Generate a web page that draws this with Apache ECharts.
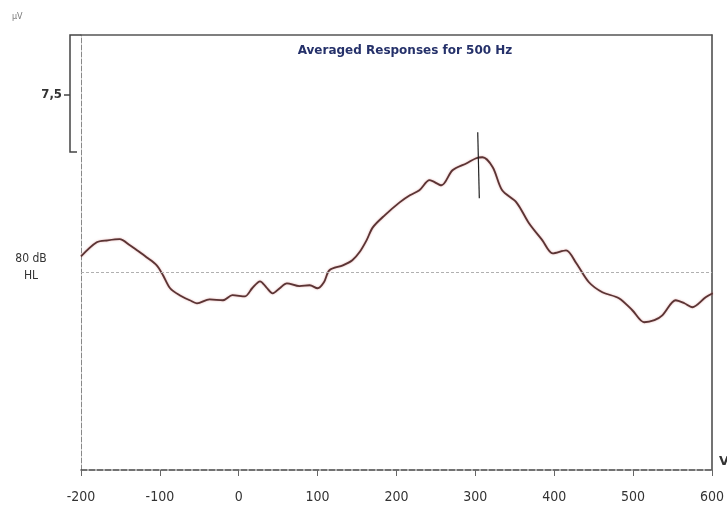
<!DOCTYPE html>
<html>
<head>
<meta charset="utf-8">
<script src="https://cdn.jsdelivr.net/npm/echarts@6/dist/echarts.min.js"></script>
<style>html,body{margin:0;padding:0;background:#fff;}#c{width:727px;height:520px;}</style>
</head>
<body>
<div id="c"></div>
<script>
// Latency (ms) and amplitude (μV, relative to baseline)
var latency = [-200,-180,-166,-151,-138,-129,-117,-104,-96,-87,-75,-62,-53,-37,-20,-8,8,17,27,35,43,52,61,77,90,100,108,115,132,144,153,162,170,185,204,217,229,242,257,271,289,301,309,322,334,352,368,385,398,415,428,444,461,482,499,514,527,537,554,565,575,592,601];
var amplitude = [1.01,1.90,2.02,2.09,1.71,1.39,0.95,0.44,-0.19,-1.01,-1.45,-1.77,-1.96,-1.71,-1.77,-1.45,-1.52,-1.01,-0.57,-0.95,-1.33,-1.01,-0.70,-0.88,-0.82,-1.01,-0.63,0.13,0.44,0.76,1.26,2.02,2.84,3.60,4.42,4.87,5.18,5.82,5.50,6.45,6.89,7.21,7.27,6.64,5.18,4.42,3.10,2.02,1.20,1.39,0.57,-0.63,-1.26,-1.64,-2.40,-3.16,-3.03,-2.72,-1.77,-1.96,-2.21,-1.58,-1.33];
var xTicks = [-200,-100,0,100,200,300,400,500,600];
var peakMarker = [[303, 8.85], [305, 4.68]];
var titleText = 'Averaged Responses for 500 Hz';
var levelLabel = '80 dB\nHL';
var scaleLabel = '7,5';
var unitLabel = 'μV';

var chart = echarts.init(document.getElementById('c'));
var pts = latency.map(function(x, i){ return [x, amplitude[i]]; });
chart.setOption({
  animation: false,
  backgroundColor: '#ffffff',
  title: {
    text: titleText, left: 400, top: 40, textAlign: 'center',
    textStyle: {fontFamily: 'DejaVu Sans', fontSize: 12, fontWeight: 'bold', color: '#25316a'}
  },
  grid: {left: 81, right: 13, top: 35, bottom: 50},
  xAxis: [{
    type: 'value', min: -200, max: 600, interval: 100,
    axisLine: {show: true, onZero: false, lineStyle: {color: '#444', width: 1.5, type: [6, 2]}},
    axisTick: {show: true, length: 6, lineStyle: {color: '#666'}},
    axisLabel: {color: '#333', fontFamily: 'DejaVu Sans Condensed', fontSize: 14, margin: 20,
      formatter: function(v){ return xTicks.indexOf(v) >= 0 ? String(v) : ''; }},
    splitLine: {show: false}
  }, {
    type: 'value', min: -200, max: 600, position: 'top',
    axisLine: {show: true, onZero: false, lineStyle: {color: '#555', width: 1.5}},
    axisTick: {show: false}, axisLabel: {show: false}, splitLine: {show: false}
  }],
  yAxis: [{
    type: 'value', min: -12.5, max: 15,
    axisLine: {show: true, onZero: false, lineStyle: {color: '#888', width: 1, type: [5, 2]}},
    axisTick: {show: false}, axisLabel: {show: false}, splitLine: {show: false}
  }, {
    type: 'value', min: -12.5, max: 15, position: 'right',
    axisLine: {show: true, onZero: false, lineStyle: {color: '#444', width: 1.5}},
    axisTick: {show: false}, axisLabel: {show: false}, splitLine: {show: false}
  }],
  series: [{
    type: 'line', data: pts, showSymbol: false, smooth: 0.3,
    lineStyle: {color: '#5a3434', width: 1.8, shadowColor: 'rgba(200,80,80,0.5)', shadowBlur: 2},
    markLine: {
      silent: true, symbol: 'none', label: {show: false},
      lineStyle: {color: '#b0b0b0', type: [3, 2], width: 1},
      data: [{yAxis: 0}]
    },
    z: 3
  }, {
    type: 'line', data: peakMarker, showSymbol: false,
    lineStyle: {color: '#222', width: 1.2}, z: 4
  }],
  graphic: [
    {type: 'polyline', shape: {points: [[81, 35], [70, 35], [70, 152], [77, 152]]},
      style: {stroke: '#444', lineWidth: 1.5, fill: null}},
    {type: 'line', shape: {x1: 64, y1: 95, x2: 70, y2: 95}, style: {stroke: '#444', lineWidth: 1.5}},
    {type: 'text', x: 62, y: 95,
      style: {text: scaleLabel, textAlign: 'right', textVerticalAlign: 'middle', fontFamily: 'DejaVu Sans Condensed', fontSize: 13, fontWeight: 'bold', fill: '#333'}},
    {type: 'text', x: 12, y: 17,
      style: {text: unitLabel, textVerticalAlign: 'middle', fontFamily: 'DejaVu Sans', fontSize: 8, fill: '#777'}},
    {type: 'text', x: 31, y: 267,
      style: {text: levelLabel, textAlign: 'center', textVerticalAlign: 'middle', lineHeight: 17, fontFamily: 'DejaVu Sans Condensed', fontSize: 12, fill: '#333'}},
    {type: 'text', x: 719, y: 462,
      style: {text: 'V', textVerticalAlign: 'middle', fontFamily: 'DejaVu Sans', fontSize: 13, fontWeight: 'bold', fill: '#333'}}
  ]
});
</script>
</body>
</html>
